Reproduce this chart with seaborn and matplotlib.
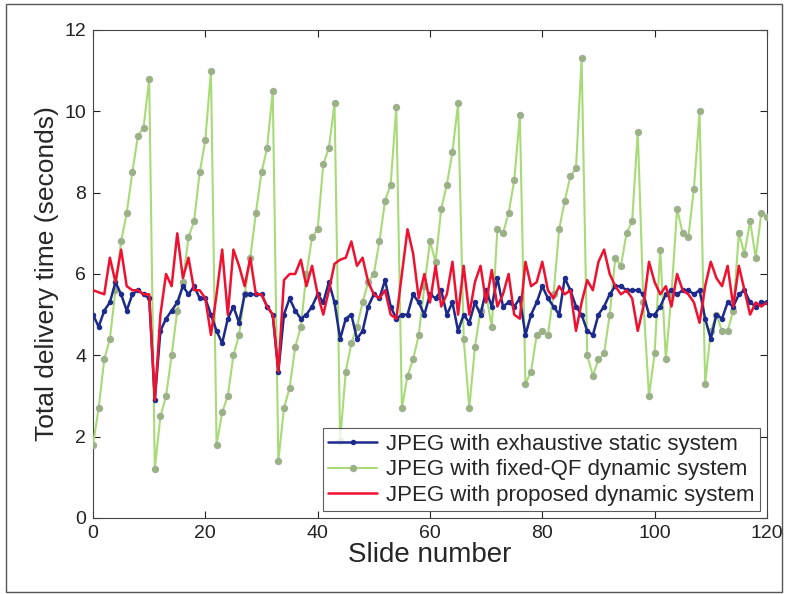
import numpy as np
import pandas as pd
import matplotlib
matplotlib.use("Agg")
import matplotlib.pyplot as plt
import seaborn as sns

slides = list(range(0, 121))

exhaustive_static = [
    5.0, 4.7, 5.1, 5.3, 5.8, 5.5, 5.1, 5.5, 5.6, 5.5, 5.4, 2.9, 4.6, 4.9, 5.1, 5.3, 5.7, 5.5, 5.7, 5.4,
    5.4, 5.0, 4.6, 4.3, 4.9, 5.2, 4.8, 5.5, 5.5, 5.5, 5.5, 5.2, 5.0, 3.6, 5.0, 5.4, 5.1, 4.9, 5.0, 5.2,
    5.5, 5.3, 5.8, 5.3, 4.4, 4.9, 5.0, 4.4, 4.6, 5.2, 5.5, 5.4, 5.85, 5.2, 4.9, 5.0, 5.0, 5.5, 5.3, 5.0,
    5.5, 5.4, 5.6, 5.0, 5.3, 4.6, 5.0, 4.8, 5.3, 5.0, 5.6, 5.2, 5.9, 5.2, 5.3, 5.2, 5.4, 4.5, 5.0, 5.3,
    5.7, 5.4, 5.2, 5.0, 5.9, 5.6, 5.2, 5.0, 4.6, 4.5, 5.0, 5.2, 5.5, 5.7, 5.7, 5.6, 5.6, 5.6, 5.5, 5.0,
    5.0, 5.2, 5.5, 5.6, 5.5, 5.6, 5.6, 5.5, 5.6, 4.9, 4.4, 5.0, 4.9, 5.3, 5.2, 5.5, 5.6, 5.3, 5.2, 5.3,
    5.3,
]

fixed_qf_dynamic = [
    1.8, 2.7, 3.9, 4.4, 5.6, 6.8, 7.5, 8.5, 9.4, 9.6, 10.8, 1.2, 2.5, 3.0, 4.0, 5.1, 5.8, 6.9, 7.3, 8.5,
    9.3, 11.0, 1.8, 2.6, 3.0, 4.0, 4.5, 5.5, 6.4, 7.5, 8.5, 9.1, 10.5, 1.4, 2.7, 3.2, 4.2, 4.7, 6.0, 6.9,
    7.1, 8.7, 9.1, 10.2, 1.9, 3.6, 4.3, 4.7, 5.3, 5.8, 6.0, 6.8, 7.8, 8.2, 10.1, 2.7, 3.5, 3.9, 4.5, 5.7,
    6.8, 6.3, 7.6, 8.2, 9.0, 10.2, 4.4, 2.7, 4.2, 5.1, 5.5, 4.7, 7.1, 7.0, 7.5, 8.3, 9.9, 3.3, 3.6, 4.5,
    4.6, 4.5, 5.5, 7.1, 7.8, 8.4, 8.6, 11.3, 4.0, 3.5, 3.9, 4.05, 5.0, 6.4, 6.2, 7.0, 7.3, 9.5, 5.3, 3.0,
    4.05, 6.6, 3.9, 5.5, 7.6, 7.0, 6.9, 8.1, 10.0, 3.3, 4.6, 5.0, 4.6, 4.6, 5.1, 7.0, 6.5, 7.3, 6.4, 7.5,
    7.4,
]

proposed_dynamic = [
    5.6, 5.55, 5.5, 6.4, 5.8, 6.6, 5.7, 5.6, 5.6, 5.5, 5.5, 2.9, 5.0, 6.0, 5.7, 7.0, 5.9, 6.4, 5.6, 5.6,
    5.4, 4.5, 5.5, 6.6, 5.0, 6.6, 6.2, 5.7, 6.4, 5.5, 5.5, 5.2, 5.0, 3.6, 5.85, 6.0, 6.0, 6.35, 5.7, 6.2,
    5.5, 5.0, 5.6, 6.25, 6.35, 6.4, 6.8, 6.2, 6.4, 5.8, 5.5, 5.4, 5.6, 5.0, 4.9, 6.0, 7.1, 6.5, 5.4, 6.0,
    5.3, 6.2, 5.2, 5.5, 6.3, 5.0, 6.2, 5.0, 5.8, 6.2, 5.3, 6.1, 5.2, 5.5, 6.0, 5.0, 4.9, 6.3, 5.7, 5.8,
    6.3, 5.6, 5.4, 5.7, 5.5, 5.6, 4.6, 5.3, 5.85, 5.6, 6.3, 6.6, 6.0, 5.7, 5.5, 5.6, 5.4, 4.6, 5.2, 6.3,
    5.8, 5.5, 5.7, 5.2, 6.0, 5.6, 5.5, 5.3, 4.8, 5.7, 6.3, 5.9, 5.7, 6.2, 5.2, 6.2, 5.6, 5.0, 5.3, 5.2,
    5.3,
]

labels = [
    "JPEG with exhaustive static system",
    "JPEG with fixed-QF dynamic system",
    "JPEG with proposed dynamic system",
]
x_ticks = [0, 20, 40, 60, 80, 100, 120]
y_ticks = [0, 2, 4, 6, 8, 10, 12]

sns.set_theme(style="white")
plt.rcParams["font.family"] = ["Liberation Sans", "DejaVu Sans"]

fig = plt.figure(figsize=(7.85, 5.94), dpi=100)
ax = fig.add_axes([0.1185, 0.128, 0.8585, 0.8215])

df_blue = pd.DataFrame({"slide": slides, "time": exhaustive_static})
df_green = pd.DataFrame({"slide": slides, "time": fixed_qf_dynamic})
df_red = pd.DataFrame({"slide": slides, "time": proposed_dynamic})

sns.lineplot(data=df_blue, x="slide", y="time", ax=ax, color="#1c2a8c", lw=1.8,
             marker="o", markersize=3.2, markeredgecolor="#1c2a8c", label=labels[0], zorder=4)
sns.lineplot(data=df_green, x="slide", y="time", ax=ax, color="#a8da78", lw=1.5,
             marker="o", markersize=4.5, markerfacecolor="#98b47e", markeredgecolor="#a3ad98",
             markeredgewidth=0.8, label=labels[1], zorder=3)
sns.lineplot(data=df_red, x="slide", y="time", ax=ax, color="#f01030", lw=1.8,
             label=labels[2], zorder=5)

ax.set_xlim(0, 120)
ax.set_ylim(0, 12)
ax.set_xticks(x_ticks)
ax.set_yticks(y_ticks)
ax.tick_params(direction="in", length=5, width=0.8, labelsize=14, colors="#222222",
               top=True, right=True, bottom=True, left=True, pad=5)
for sp in ax.spines.values():
    sp.set_visible(True)
    sp.set_color("#444444")
    sp.set_linewidth(0.8)
ax.set_xlabel("Slide number", fontsize=20, labelpad=0)
ax.set_ylabel("Total delivery time (seconds)", fontsize=19, labelpad=4)

leg = ax.legend(loc="lower right", fontsize=16, frameon=True, fancybox=False,
                edgecolor="#333333", borderpad=0.25, labelspacing=0.2, handlelength=2.2,
                handletextpad=0.4, borderaxespad=0.3)
leg.get_frame().set_linewidth(0.8)

fig.patches.append(plt.Rectangle((0.008, 0.004), 0.988, 0.99, transform=fig.transFigure,
                                 fill=False, edgecolor="#555555", lw=1.0))

fig.savefig("out.png", dpi=100)
